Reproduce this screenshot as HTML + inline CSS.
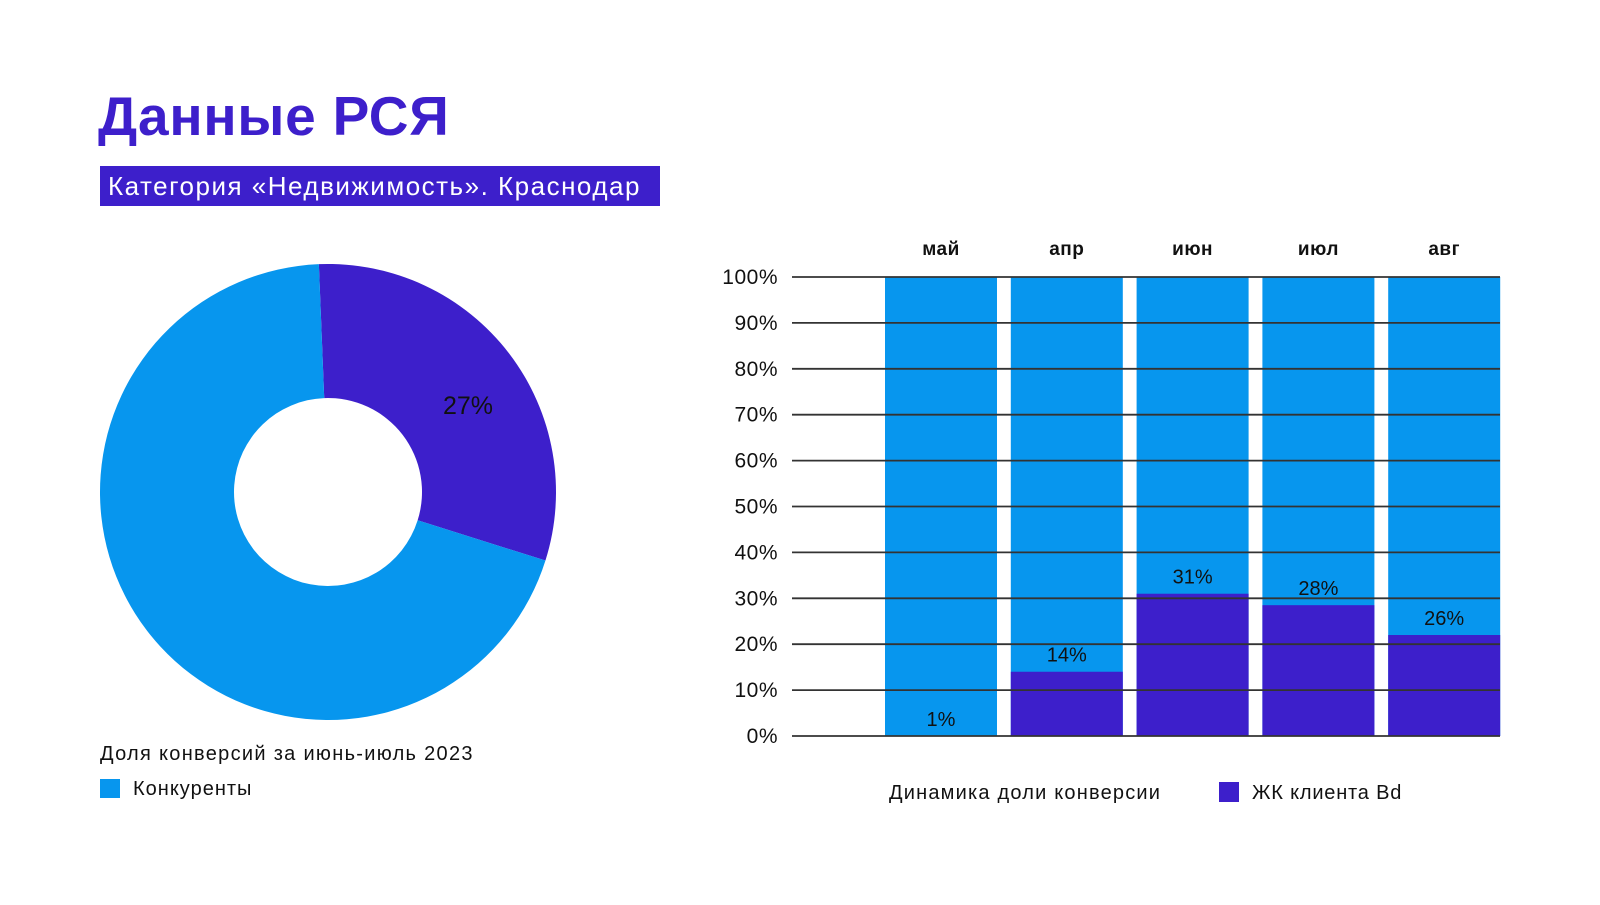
<!DOCTYPE html>
<html><head><meta charset="utf-8">
<style>
body{margin:0;width:1600px;height:900px;background:#fff;overflow:hidden;font-family:"Liberation Sans","Noto Sans CJK SC",sans-serif;}
svg text{font-family:"Liberation Sans","Noto Sans CJK SC",sans-serif;}
</style></head>
<body>
<svg id="chart" width="1600" height="900" xmlns="http://www.w3.org/2000/svg">
<text x="98" y="135" font-size="55" font-weight="bold" fill="#3D1FCB" letter-spacing="0.8">Данные РСЯ</text>
<rect x="100" y="166" width="560" height="40" fill="#3D1FCB"/>
<text x="108" y="195" font-size="26" fill="#fff" letter-spacing="1.5">Категория «Недвижимость». Краснодар</text>
<g id="donut"></g>
<text x="100" y="760" font-size="20" fill="#111" letter-spacing="1.3">Доля конверсий за июнь-июль 2023</text>
<rect x="100" y="779" width="20" height="19" fill="#0796EE"/>
<text x="133" y="795" font-size="20" fill="#111" letter-spacing="1">Конкуренты</text>
<g id="bars"></g>
<text x="889" y="799" font-size="20" fill="#111" letter-spacing="1.2">Динамика доли конверсии</text>
<rect x="1219" y="782" width="20" height="20" fill="#3D1FCB"/>
<text x="1252" y="799" font-size="20" fill="#111" letter-spacing="0.8">ЖК клиента Bd</text>
</svg>
<script>
const NS="http://www.w3.org/2000/svg";
const BLUE="#0796EE",PURPLE="#3D1FCB";
// donut data
const donutShares=[30.5,69.5];
const donutLabels=["27%",""];
// bar data
const months=["май","апр","июн","июл","авг"];
const clientShare=[0,14,31,28.5,22];
const barLabels=["1%","14%","31%","28%","26%"];
const yTicks=[0,10,20,30,40,50,60,70,80,90,100];

function mk(tag,attrs,parent){const e=document.createElementNS(NS,tag);for(const k in attrs)e.setAttribute(k,attrs[k]);parent.appendChild(e);return e;}

// donut
(function(){
  const g=document.getElementById('donut');
  const cx=328,cy=492,R=228,r=94,start=-2.3;
  const total=donutShares.reduce((a,b)=>a+b,0);
  const cols=[PURPLE,BLUE];
  let a0=start;
  function pt(a,rad){const t=(a-90)*Math.PI/180;return [cx+rad*Math.cos(t),cy+rad*Math.sin(t)];}
  donutShares.forEach((v,i)=>{
    const a1=a0+v/total*360;
    const large=(a1-a0)>180?1:0;
    const p1=pt(a0,R),p2=pt(a1,R),p3=pt(a1,r),p4=pt(a0,r);
    const p=mk('path',{d:`M${p1[0]},${p1[1]} A${R},${R} 0 ${large} 1 ${p2[0]},${p2[1]} L${p3[0]},${p3[1]} A${r},${r} 0 ${large} 0 ${p4[0]},${p4[1]} Z`,fill:cols[i]},g);
    
    
    if(donutLabels[i]){
      const t=mk('text',{x:468,y:414,'font-size':25,fill:'#111','text-anchor':'middle'},g);
      t.textContent=donutLabels[i];
      
      
    }
    a0=a1;
  });
})();

// bars
(function(){
  const g=document.getElementById('bars');
  const y0=736,y1=277,x0=792,x1=1500;
  const y=v=>y0-(v/100)*(y0-y1);
  const firstX=885,step=125.8,bw=112;
  const x=i=>firstX+i*step;
  months.forEach((m,i)=>{
    const b=mk('rect',{x:x(i),y:y(100),width:bw,height:y(0)-y(100),fill:BLUE},g);
    
    
    const p=mk('rect',{x:x(i),y:y(clientShare[i]),width:bw,height:y(0)-y(clientShare[i]),fill:PURPLE},g);
    
    
    const t=mk('text',{x:x(i)+bw/2,y:255,'font-size':19,'font-weight':'bold',fill:'#111','text-anchor':'middle','letter-spacing':0.5},g);
    t.textContent=m;
    
    
    const l=mk('text',{x:x(i)+bw/2,y:y(Math.max(clientShare[i],0))-10,'font-size':20,fill:'#111','text-anchor':'middle'},g);
    l.textContent=barLabels[i];
    
    
  });
  yTicks.forEach(v=>{
    const ln=mk('line',{x1:x0,x2:x1,y1:y(v),y2:y(v),stroke:'#333','stroke-width':1.8},g);
    
    
    const t=mk('text',{x:778,y:y(v)+7,'font-size':21,fill:'#111','text-anchor':'end','letter-spacing':0.5},g);
    t.textContent=v+'%';
    
    
  });
})();
</script>
</body></html>
